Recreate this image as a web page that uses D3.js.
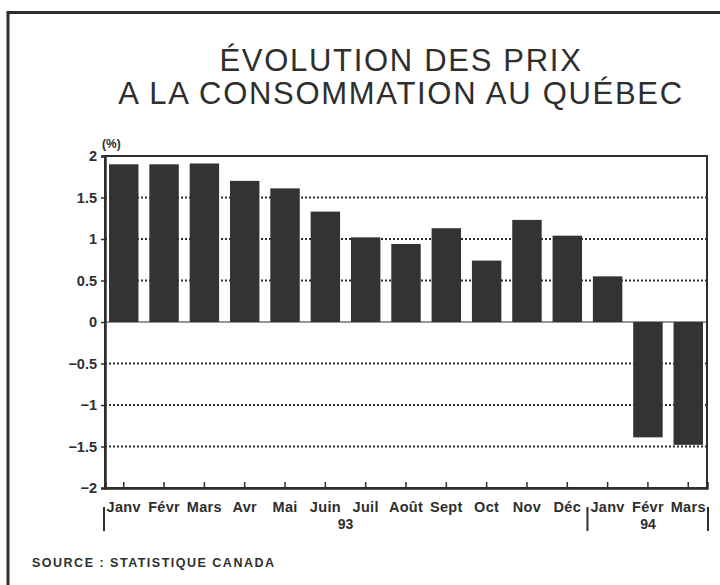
<!DOCTYPE html>
<html>
<head>
<meta charset="utf-8">
<script src="https://cdn.jsdelivr.net/npm/d3@7"></script>
<style>
  body { margin: 0; background: #fff; }
  svg { display: block; }
</style>
</head>
<body>
<script>
// chart data
var months = ["Janv", "Févr", "Mars", "Avr", "Mai", "Juin", "Juil", "Août", "Sept", "Oct", "Nov", "Déc", "Janv", "Févr", "Mars"];
var values = [1.9, 1.9, 1.91, 1.7, 1.61, 1.33, 1.02, 0.94, 1.13, 0.74, 1.23, 1.04, 0.55, -1.39, -1.48];
var yTicks = [-2, -1.5, -1, -0.5, 0, 0.5, 1, 1.5, 2];
var gridTicks = [-1.5, -1, -0.5, 0.5, 1, 1.5];
var years = [{label: "93", from: 0, to: 11}, {label: "94", from: 12, to: 14}];
var titleLines = ["ÉVOLUTION DES PRIX", "A LA CONSOMMATION AU QUÉBEC"];

var width = 720;
var height = 585;
var ink = "#2e2e2e";

// plot box
var pLeft = 105, pRight = 707, pTop = 156, pBottom = 488;

var svg = d3.select("body")
    .append("svg")
    .attr("width", width)
    .attr("height", height);

// outer frame (top and left edges)
svg.append("path")
    .attr("d", "M8," + height + " L8,12.5 L" + width + ",12.5")
    .style("fill", "none")
    .style("stroke", ink)
    .style("stroke-width", 3);

// title
svg.selectAll(".title")
    .data(titleLines)
    .enter().append("text")
    .attr("class", "title")
    .attr("x", 401)
    .attr("y", function(d, i) { return 71 + i * 33; })
    .attr("text-anchor", "middle")
    .attr("font-family", "Liberation Sans, Arial, sans-serif")
    .attr("font-size", "31px")
    .attr("letter-spacing", "1.7px")
    .attr("fill", ink)
    .text(function(d) { return d; });

// scales
var xScale = d3.scaleBand()
    .domain(d3.range(months.length))
    .range([pLeft, pRight])
    .paddingInner(0.27)
    .paddingOuter(0.1);

var yScale = d3.scaleLinear()
    .domain([-2, 2])
    .range([pBottom, pTop]);

// dotted gridlines
svg.append("g")
    .selectAll("line")
    .data(gridTicks)
    .enter().append("line")
    .attr("x1", pLeft)
    .attr("x2", pRight)
    .attr("y1", function(d) { return yScale(d); })
    .attr("y2", function(d) { return yScale(d); })
    .style("stroke", ink)
    .style("stroke-width", 2)
    .style("stroke-dasharray", "2,2");

// bars
svg.append("g")
    .selectAll("rect")
    .data(values)
    .enter().append("rect")
    .attr("x", function(d, i) { return xScale(i); })
    .attr("width", xScale.bandwidth())
    .attr("y", function(d) { return yScale(Math.max(0, d)); })
    .attr("height", function(d) { return Math.abs(yScale(d) - yScale(0)); })
    .style("fill", "#333");

// zero line
svg.append("line")
    .attr("x1", pLeft)
    .attr("x2", pRight)
    .attr("y1", yScale(0))
    .attr("y2", yScale(0))
    .style("stroke", ink)
    .style("stroke-width", 1.2);

// plot frame
svg.append("rect")
    .attr("x", pLeft)
    .attr("y", pTop)
    .attr("width", pRight - pLeft)
    .attr("height", pBottom - pTop)
    .style("fill", "none")
    .style("stroke", ink)
    .style("stroke-width", 2);

// y axis
var yAxis = d3.axisLeft(yScale)
    .tickValues(yTicks)
    .tickSize(4)
    .tickPadding(4)
    .tickFormat(d3.format(""));

var gy = svg.append("g")
    .attr("transform", "translate(" + pLeft + ",0)")
    .call(yAxis);
gy.select(".domain").style("stroke", ink).style("stroke-width", 2.5);
gy.selectAll(".tick line").style("stroke", ink).style("stroke-width", 1.5);
gy.selectAll("text")
    .attr("font-family", "Liberation Sans, Arial, sans-serif")
    .attr("font-size", "14.5px")
    .attr("font-weight", "bold")
    .attr("fill", ink);

// x axis, ticks pointing into the plot
var xAxis = d3.axisBottom(xScale)
    .tickSize(-6)
    .tickPadding(14)
    .tickFormat(function(i) { return months[i]; });

var gx = svg.append("g")
    .attr("transform", "translate(0," + pBottom + ")")
    .call(xAxis);
gx.select(".domain").style("stroke", ink).style("stroke-width", 2.5);
gx.selectAll(".tick line").style("stroke", ink).style("stroke-width", 1.5);
gx.selectAll("text")
    .attr("font-family", "Liberation Sans, Arial, sans-serif")
    .attr("font-size", "14.5px")
    .attr("font-weight", "bold")
    .attr("letter-spacing", "0.3px")
    .attr("fill", ink);

// unit label
svg.append("text")
    .attr("x", 102)
    .attr("y", 148)
    .attr("font-family", "Liberation Sans, Arial, sans-serif")
    .attr("font-size", "12px")
    .attr("font-weight", "bold")
    .attr("fill", ink)
    .text("(%)");

// year separators and labels
var step = xScale.step();
var sepX = [pLeft - 1, xScale(12) - (step - xScale.bandwidth()) / 2, pRight + 1];
svg.append("g")
    .selectAll("line")
    .data(sepX)
    .enter().append("line")
    .attr("x1", function(d) { return d; })
    .attr("x2", function(d) { return d; })
    .attr("y1", 507)
    .attr("y2", 531)
    .style("stroke", ink)
    .style("stroke-width", 2);

svg.append("g")
    .selectAll("text")
    .data(years)
    .enter().append("text")
    .attr("x", function(d) { return (xScale(d.from) + xScale(d.to) + xScale.bandwidth()) / 2; })
    .attr("y", 529)
    .attr("text-anchor", "middle")
    .attr("font-family", "Liberation Sans, Arial, sans-serif")
    .attr("font-size", "14px")
    .attr("font-weight", "bold")
    .attr("fill", ink)
    .text(function(d) { return d.label; });

// source note
svg.append("text")
    .attr("x", 32)
    .attr("y", 567)
    .attr("font-family", "Liberation Sans, Arial, sans-serif")
    .attr("font-size", "12.5px")
    .attr("font-weight", "bold")
    .attr("letter-spacing", "1.5px")
    .attr("fill", ink)
    .text("SOURCE : STATISTIQUE CANADA");
</script>
</body>
</html>
